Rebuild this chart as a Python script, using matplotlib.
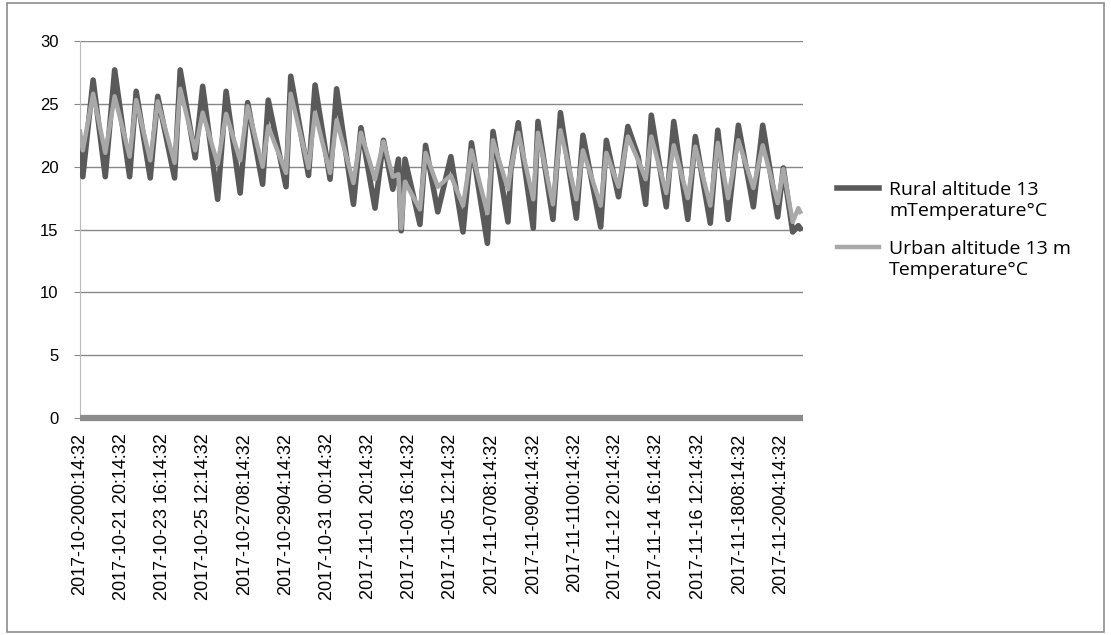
import matplotlib.pyplot as plt
from matplotlib.patches import Rectangle

# hours since 2017-10-20 00:14:32, read at the daily highs and lows
hours = [0, 3, 14, 27, 37, 53, 60, 75, 83, 101, 107, 123, 131, 147, 156, 171,
         179, 195, 201, 220, 225, 244, 251, 267, 274, 292, 300, 315, 324, 334,
         340, 343, 347, 363, 369, 382, 396, 409, 418, 435, 441, 457, 460, 468,
         484, 489, 505, 513, 530, 537, 556, 562, 575, 585, 596, 604, 610, 626,
         634, 649, 657, 673, 681, 692, 703, 719, 729, 745, 751, 761, 767, 769]
rural = [21.9, 19.2, 26.9, 19.2, 27.7, 19.2, 26.0, 19.1, 25.6, 19.1, 27.7, 20.7,
         26.4, 17.4, 26.0, 17.9, 25.1, 18.6, 25.3, 18.4, 27.2, 19.3, 26.5, 19.0,
         26.2, 17.0, 23.1, 16.7, 22.1, 18.2, 20.6, 14.9, 20.6, 15.4, 21.7, 16.4,
         20.8, 14.8, 21.9, 13.9, 22.8, 15.6, 19.7, 23.5, 15.1, 23.6, 15.8, 24.3,
         15.9, 22.5, 15.2, 22.1, 17.6, 23.2, 20.8, 17.0, 24.1, 16.8, 23.6, 15.8,
         22.4, 15.5, 22.9, 15.8, 23.3, 16.8, 23.3, 16.0, 19.9, 14.8, 15.3, 15.1]
urban = [22.8, 21.3, 25.8, 21.1, 25.6, 20.8, 25.3, 20.5, 25.2, 20.3, 26.2, 21.3,
         24.3, 20.2, 24.2, 20.5, 24.8, 20.0, 23.2, 19.5, 25.8, 19.9, 24.3, 19.5,
         23.7, 18.7, 22.7, 19.0, 22.0, 19.2, 19.4, 15.1, 18.8, 16.6, 21.1, 18.4,
         19.3, 16.9, 21.3, 16.3, 22.1, 18.2, 19.8, 22.7, 17.4, 22.7, 17.0, 22.9,
         17.4, 21.3, 16.9, 21.1, 18.4, 22.4, 20.5, 19.0, 22.4, 17.9, 21.7, 17.5,
         21.6, 16.9, 21.9, 17.5, 22.1, 18.3, 21.7, 17.1, 19.8, 15.6, 16.7, 16.4]

tick_hours = [44 * i for i in range(18)]
tick_labels = ["2017-10-2000:14:32", "2017-10-21 20:14:32", "2017-10-23 16:14:32",
               "2017-10-25 12:14:32", "2017-10-2708:14:32", "2017-10-2904:14:32",
               "2017-10-31 00:14:32", "2017-11-01 20:14:32", "2017-11-03 16:14:32",
               "2017-11-05 12:14:32", "2017-11-0708:14:32", "2017-11-0904:14:32",
               "2017-11-1100:14:32", "2017-11-12 20:14:32", "2017-11-14 16:14:32",
               "2017-11-16 12:14:32", "2017-11-1808:14:32", "2017-11-2004:14:32"]

plt.rcParams['font.family'] = ['Liberation Sans', 'DejaVu Sans']

fig = plt.figure(figsize=(11.11, 6.35), dpi=100)
ax = fig.add_axes([80 / 1111, 1 - 418 / 635, 723 / 1111, 377 / 635])

ax.plot(hours, rural, color='#5a5a5a', lw=4.0, solid_joinstyle='round',
        label='Rural altitude 13\nmTemperature°C', zorder=3)
ax.plot(hours, urban, color='#a8a8a8', lw=3.2, solid_joinstyle='round',
        label='Urban altitude 13 m\nTemperature°C', zorder=4)

ax.set_xlim(0, 772)
ax.set_ylim(0, 30)
ax.set_yticks(range(0, 31, 5))
ax.set_xticks(tick_hours)
ax.set_xticklabels(tick_labels, rotation=90, va='top', ha='center', fontsize=13)
ax.tick_params(axis='x', length=0, pad=11)
ax.tick_params(axis='y', length=4.5, color='#888888', labelsize=12, pad=11)
ax.grid(axis='y', color='#888888', lw=1)
ax.set_axisbelow(True)

for side in ['top', 'right']:
    ax.spines[side].set_visible(False)
ax.spines['left'].set_color('#bbbbbb')
ax.spines['bottom'].set_color('#8c8c8c')
ax.spines['bottom'].set_linewidth(4.5)
ax.spines['bottom'].set_capstyle('butt')

leg = fig.legend(loc='center left', bbox_to_anchor=(819 / 1111, 1 - 230 / 635),
                 frameon=False, prop={'family': 'Open Sans', 'size': 14},
                 handlelength=2.2, handletextpad=0.5, labelspacing=1.05)
# keep each handle level with the first line of its label
for row in leg._legend_handle_box.get_children():
    for entry in row.get_children():
        entry.align = 'top'

fig.patches.append(Rectangle((7 / 1111, 3 / 635), 1097 / 1111, 629 / 635,
                             transform=fig.transFigure, fill=False,
                             edgecolor='#8c8c8c', lw=1.2))

plt.savefig('out.png')
